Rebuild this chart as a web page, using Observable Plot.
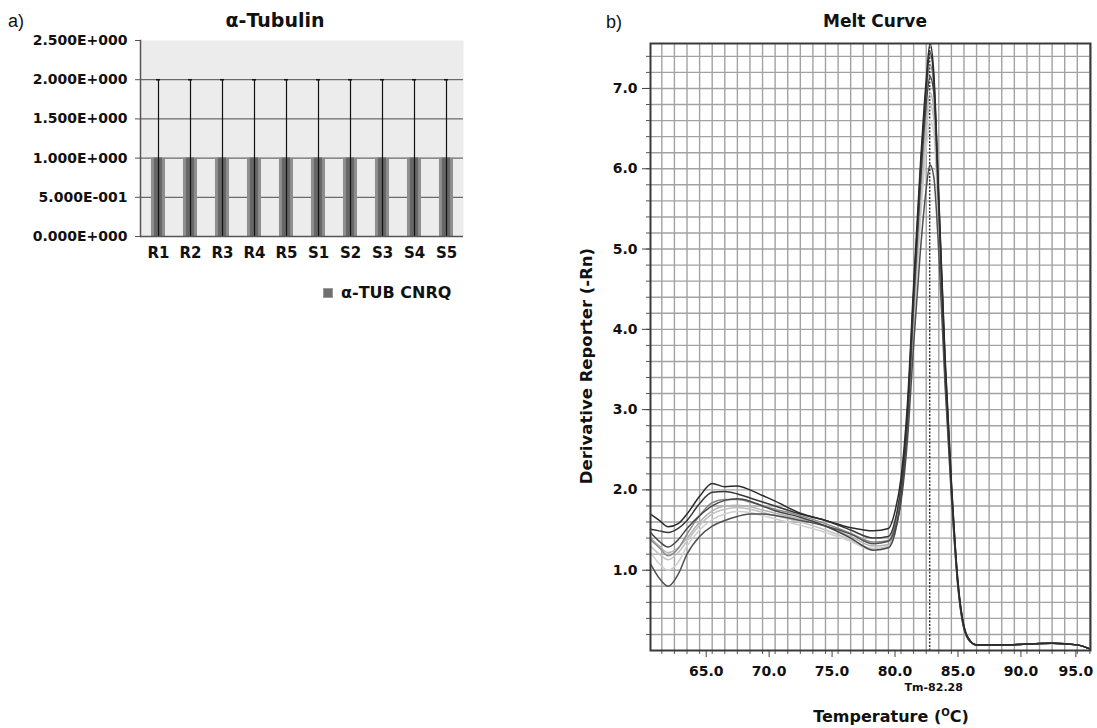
<!DOCTYPE html>
<html>
<head>
<meta charset="utf-8">
<script src="https://cdn.jsdelivr.net/npm/d3@7"></script>
<script src="https://cdn.jsdelivr.net/npm/@observablehq/plot@0.6"></script>
<style>
  html, body { margin: 0; padding: 0; background: #fff; }
  #wrap { position: relative; width: 1097px; height: 728px; overflow: hidden; background: #fff; font-family: "DejaVu Sans", sans-serif; color: #111; }
  .abs { position: absolute; white-space: nowrap; }
  .ctr { transform: translate(-50%, -50%); }
  .bold { font-weight: bold; }
  svg { overflow: visible; }
</style>
</head>
<body>
<div id="wrap">
  <div class="abs" style="left:8px;top:11px;font-family:'Liberation Sans',sans-serif;font-size:18px;">a)</div>
  <div class="abs" style="left:606px;top:12px;font-family:'Liberation Sans',sans-serif;font-size:18px;">b)</div>
  <div class="abs ctr bold" style="left:275px;top:20px;font-size:19px;">α-Tubulin</div>
  <div class="abs ctr bold" style="left:875px;top:21px;font-size:17px;">Melt Curve</div>
  <div class="abs bold" style="left:323px;top:283px;font-size:16px;display:flex;align-items:center;">
    <span style="display:inline-block;width:8px;height:8px;background:#6e6e6e;border:1px solid #9a9a9a;margin-right:8px;"></span>α-TUB CNRQ
  </div>
  <div class="abs bold" style="left:586px;top:366px;font-size:16.5px;transform:translate(-50%,-50%) rotate(-90deg);">Derivative Reporter (-Rn)</div>
  <div class="abs ctr bold" style="left:891px;top:716px;font-size:16px;">Temperature (<sup style="font-size:10px;vertical-align:6px;">O</sup>C)</div>
  <div id="bar" class="abs" style="left:0;top:0;"></div>
  <div id="melt" class="abs" style="left:560px;top:0;"></div>
</div>
<script>
// ---------- Panel a) data ----------
const samples = ["R1","R2","R3","R4","R5","S1","S2","S3","S4","S5"];
const cnrq = [1,1,1,1,1,1,1,1,1,1];
const cnrqErr = [1,1,1,1,1,1,1,1,1,1];
const barYTicks = [0, 0.5, 1, 1.5, 2, 2.5];
const barYTickLabels = ["0.000E+000","5.000E-001","1.000E+000","1.500E+000","2.000E+000","2.500E+000"];

// ---------- Panel b) data ----------
const temps = [60.1, 60.8, 61.5, 62.3, 63.0, 64.0, 65.0, 66.0, 67.0, 68.0, 69.0, 70.0, 72.0, 74.0, 76.0, 77.8, 79.0, 79.5, 80.0, 80.5, 81.0, 81.5, 82.0, 82.3, 82.6, 83.0, 83.5, 84.0, 84.5, 85.0, 85.5, 86.0, 88.0, 90.0, 92.0, 94.0, 95.0];
const curve1 = [1.70,1.62,1.54,1.58,1.70,1.92,2.08,2.04,2.05,2.00,1.93,1.86,1.71,1.62,1.53,1.49,1.52,1.72,2.15,3.05,4.55,5.95,7.10,7.56,7.20,5.65,3.65,2.10,0.90,0.30,0.12,0.07,0.07,0.08,0.09,0.07,0.02];
const curve2 = [1.51,1.49,1.47,1.52,1.62,1.83,1.97,1.98,1.95,1.90,1.85,1.80,1.70,1.62,1.50,1.40,1.42,1.60,2.05,2.95,4.45,5.85,7.00,7.45,7.12,5.60,3.60,2.08,0.88,0.30,0.12,0.07,0.07,0.08,0.09,0.07,0.02];
const curve3 = [1.47,1.36,1.29,1.38,1.52,1.68,1.80,1.87,1.89,1.86,1.80,1.74,1.66,1.55,1.40,1.25,1.28,1.45,1.90,2.80,4.30,5.70,6.80,7.15,6.95,5.50,3.50,2.00,0.85,0.28,0.11,0.07,0.07,0.08,0.09,0.07,0.02];
const curve4 = [1.40,1.30,1.22,1.28,1.40,1.60,1.74,1.80,1.81,1.79,1.75,1.71,1.64,1.55,1.42,1.30,1.32,1.50,1.95,2.80,4.20,5.55,6.60,6.95,6.75,5.40,3.45,1.98,0.85,0.28,0.11,0.07,0.07,0.08,0.09,0.07,0.02];
const curve5 = [1.30,1.20,1.13,1.22,1.36,1.56,1.70,1.76,1.78,1.76,1.72,1.68,1.60,1.50,1.38,1.27,1.30,1.48,1.92,2.75,4.10,5.40,6.45,6.80,6.62,5.30,3.40,1.95,0.84,0.28,0.11,0.07,0.07,0.08,0.09,0.07,0.02];
const curve6 = [1.38,1.28,1.18,1.27,1.45,1.68,1.84,1.88,1.88,1.85,1.80,1.76,1.68,1.58,1.46,1.35,1.37,1.55,2.00,2.90,4.40,5.80,6.95,7.30,7.05,5.55,3.55,2.04,0.87,0.29,0.12,0.07,0.07,0.08,0.09,0.07,0.02];
const curve7 = [1.08,0.90,0.80,0.95,1.20,1.42,1.55,1.62,1.67,1.70,1.70,1.68,1.62,1.55,1.45,1.33,1.36,1.50,1.85,2.60,3.80,4.90,5.75,6.05,5.90,4.95,3.30,1.92,0.82,0.27,0.11,0.07,0.07,0.08,0.09,0.07,0.02];
const curve8 = [1.22,1.08,1.00,1.10,1.30,1.50,1.63,1.70,1.73,1.72,1.68,1.64,1.56,1.47,1.36,1.25,1.28,1.45,1.88,2.70,4.00,5.25,6.25,6.60,6.45,5.20,3.35,1.93,0.83,0.27,0.11,0.07,0.07,0.08,0.09,0.07,0.02];
const curveColors = ["#2b2b2b","#383838","#474747","#b3b3b3","#c2c2c2","#8a8a8a","#505050","#cfcfcf"];
const drawOrder = [7, 4, 3, 5, 6, 2, 1, 0];
const xTickLabels = [65, 70, 75, 80, 85, 90, 95];
const yTickLabels = [1, 2, 3, 4, 5, 6, 7];
const tmValue = 82.28;
const tmLabel = "Tm-82.28";

// ---------- Panel a) ----------
const barData = samples.map((s, i) => ({sample: s, value: cnrq[i], err: cnrqErr[i]}));
const barPlot = Plot.plot({
  width: 480, height: 270,
  marginLeft: 140, marginRight: 17, marginTop: 40, marginBottom: 34,
  x: {domain: samples, paddingInner: 0.57, paddingOuter: 0.285, label: null},
  y: {domain: [0, 2.5], label: null},
  style: {fontFamily: "'DejaVu Sans', sans-serif", fontWeight: "bold", color: "#111", background: "transparent", overflow: "visible"},
  marks: [
    Plot.frame({fill: "#ececec", stroke: null}),
    Plot.gridY(barYTicks.slice(1, 5), {stroke: "#4a4a4a", strokeOpacity: 1, strokeWidth: 1}),
    Plot.barY(barData, {x: "sample", y: "value", fill: "#8e8e8e"}),
    Plot.barY(barData, {x: "sample", y: "value", fill: "#676767", insetLeft: 3, insetRight: 3}),
    Plot.ruleX(barData, {x: "sample", y1: d => d.value - d.err, y2: d => d.value + d.err, stroke: "#111", strokeWidth: 1.2}),
    Plot.tickY(barData, {x: "sample", y: d => d.value + d.err, stroke: "#111", strokeWidth: 1.5, insetLeft: 5, insetRight: 5}),
    Plot.ruleY([0], {stroke: "#555", strokeWidth: 1.5}),
    Plot.frame({anchor: "left", stroke: "#555", strokeWidth: 1.5}),
    Plot.axisY(barYTicks, {tickSize: 5, tickPadding: 8, tickFormat: (d, i) => barYTickLabels[i], fontSize: 14, stroke: "#555", label: null}),
    Plot.axisX({tickSize: 0, tickPadding: 11, fontSize: 15, label: null})
  ]
});
document.getElementById("bar").appendChild(barPlot);

// ---------- Panel b) ----------
const curves = [curve1, curve2, curve3, curve4, curve5, curve6, curve7, curve8];
const meltData = curves.map((c, i) => temps.map((t, j) => ({curve: i, t, v: c[j]})));
const xMinor = d3.range(61, 96);
const yMinor = d3.range(1, 38).map(k => k / 5);
const meltPlot = Plot.plot({
  width: 537, height: 700,
  marginLeft: 90, marginRight: 7, marginTop: 43, marginBottom: 50,
  x: {domain: [60.1, 95.05], label: null},
  y: {domain: [0, 7.56], label: null},
  style: {fontFamily: "'DejaVu Sans', sans-serif", fontWeight: "bold", color: "#111", background: "transparent", overflow: "visible"},
  marks: [
    Plot.gridX(xMinor, {stroke: "#a2a2a2", strokeOpacity: 1, strokeWidth: 1.4}),
    Plot.gridY(yMinor, {stroke: "#a2a2a2", strokeOpacity: 1, strokeWidth: 1.4}),
    Plot.axisX(xMinor, {tickSize: 4, tickFormat: () => "", stroke: "#555", label: null}),
    Plot.axisY(yMinor, {tickSize: 4, tickFormat: () => "", stroke: "#555", label: null}),
    Plot.axisX(xTickLabels.slice(0, -1), {tickSize: 7, tickPadding: 9, tickFormat: d => d.toFixed(1), fontSize: 14, dx: -6, stroke: "#444", label: null}),
    Plot.axisX(xTickLabels.slice(-1), {tickSize: 7, tickPadding: 9, tickFormat: d => d.toFixed(1), fontSize: 14, dx: -14, stroke: "#444", label: null}),
    Plot.axisY(yTickLabels, {tickSize: 8, tickPadding: 5, tickFormat: d => d.toFixed(1), fontSize: 14, stroke: "#444", label: null}),
    Plot.ruleX([tmValue], {stroke: "#222", strokeWidth: 1.3, strokeDasharray: "2,1.5"}),
    ...drawOrder.map(i => Plot.line(meltData[i], {x: "t", y: "v", stroke: curveColors[i], strokeWidth: 1.5, curve: "monotone-x"})),
    Plot.frame({stroke: "#3a3a3a", strokeWidth: 2}),
    Plot.text([tmLabel], {x: () => tmValue, frameAnchor: "bottom", dy: 40, dx: 4, text: d => d, fontSize: 11, fill: "#111"})
  ]
});
document.getElementById("melt").appendChild(meltPlot);
</script>
</body>
</html>
